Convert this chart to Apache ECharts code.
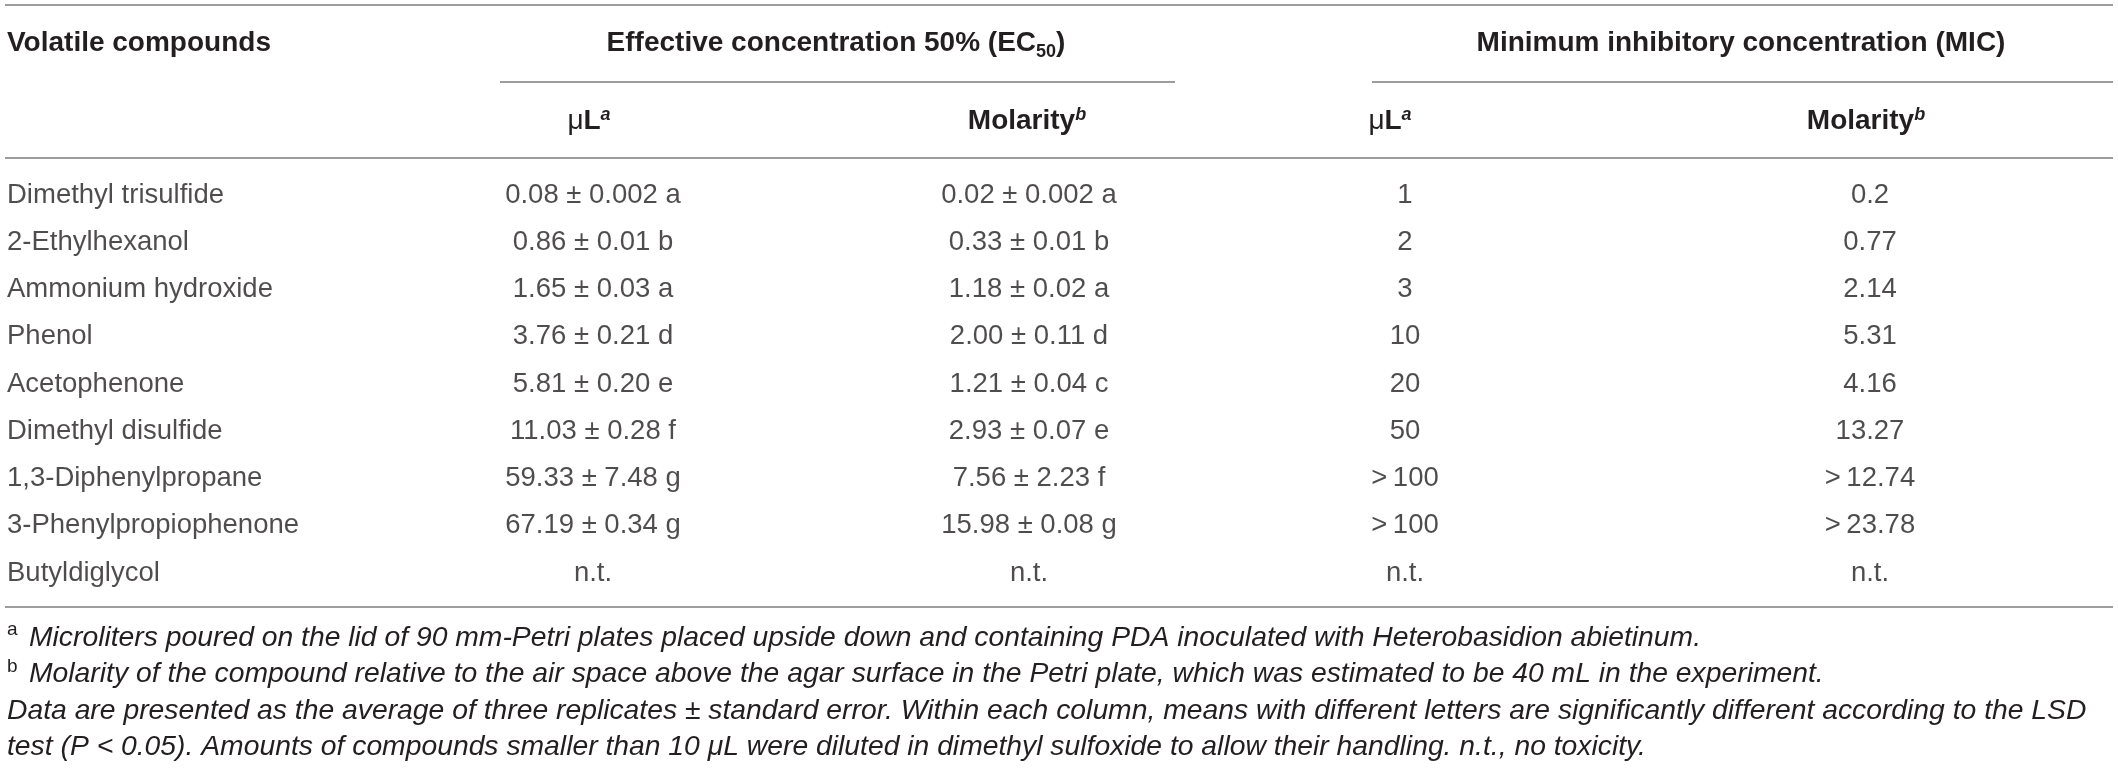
<!DOCTYPE html>
<html>
<head>
<meta charset="utf-8">
<script src="https://cdn.jsdelivr.net/npm/echarts@6/dist/echarts.min.js"></script>
<style>
  html, body { margin: 0; padding: 0; background: #fff; }
  #chart { width: 2118px; height: 770px; }
</style>
</head>
<body>
<div id="chart"></div>
<script>
// Table values
const compounds = [
  'Dimethyl trisulfide', '2-Ethylhexanol', 'Ammonium hydroxide', 'Phenol', 'Acetophenone',
  'Dimethyl disulfide', '1,3-Diphenylpropane', '3-Phenylpropiophenone', 'Butyldiglycol',
];
const ec50UlMean = [0.08, 0.86, 1.65, 3.76, 5.81, 11.03, 59.33, 67.19, null];
const ec50UlSe = [0.002, 0.01, 0.03, 0.21, 0.20, 0.28, 7.48, 0.34, null];
const ec50UlGroup = ['a', 'b', 'a', 'd', 'e', 'f', 'g', 'g', null];
const ec50MolMean = [0.02, 0.33, 1.18, 2.00, 1.21, 2.93, 7.56, 15.98, null];
const ec50MolSe = [0.002, 0.01, 0.02, 0.11, 0.04, 0.07, 2.23, 0.08, null];
const ec50MolGroup = ['a', 'b', 'a', 'd', 'c', 'e', 'f', 'g', null];
const micUl = [1, 2, 3, 10, 20, 50, 100, 100, null];
const micMol = [0.2, 0.77, 2.14, 5.31, 4.16, 13.27, 12.74, 23.78, null];
// MIC not reached within the tested range (shown with ">")
const micAbove = [false, false, false, false, false, false, true, true, false];

const footnotes = [
  { sup: 'a', text: 'Microliters poured on the lid of 90 mm-Petri plates placed upside down and containing PDA inoculated with Heterobasidion abietinum.' },
  { sup: 'b', text: 'Molarity of the compound relative to the air space above the agar surface in the Petri plate, which was estimated to be 40 mL in the experiment.' },
  { sup: '', text: 'Data are presented as the average of three replicates \u00b1 standard error. Within each column, means with different letters are significantly different according to the LSD' },
  { sup: '', text: 'test (P < 0.05). Amounts of compounds smaller than 10 \u03bcL were diluted in dimethyl sulfoxide to allow their handling. n.t., no toxicity.' },
];

// Layout
const W = 2118;
const FONT = '"Liberation Sans", Arial, Helvetica, sans-serif';
const INK = '#231f20';
const RULE = '#7d7d7d';
const colX = { name: 7, ec50Ul: 593, ec50Mol: 1029, micUl: 1405, micMol: 1870 };
const rowTop = 171.4, rowStep = 47.25;
const footTop = 638, footStep = 36.5;

const fmtMeanSe = (m, se, g) => {
  if (m === null) return 'n.t.';
  const d = se < 0.01 ? 3 : 2;
  return `${m.toFixed(2)} \u00b1 ${se.toFixed(d)} ${g}`;
};
const fmtMic = (v, above) => {
  if (v === null) return 'n.t.';
  return (above ? '>\u2009' : '') + v;
};

const columns = [
  { x: colX.name, align: 'left', cells: compounds },
  { x: colX.ec50Ul, align: 'center', cells: compounds.map((_, i) => fmtMeanSe(ec50UlMean[i], ec50UlSe[i], ec50UlGroup[i])) },
  { x: colX.ec50Mol, align: 'center', cells: compounds.map((_, i) => fmtMeanSe(ec50MolMean[i], ec50MolSe[i], ec50MolGroup[i])) },
  { x: colX.micUl, align: 'center', cells: compounds.map((_, i) => fmtMic(micUl[i], micAbove[i])) },
  { x: colX.micMol, align: 'center', cells: compounds.map((_, i) => fmtMic(micMol[i], micAbove[i])) },
];

const series = columns.map(col => ({
  type: 'scatter',
  symbolSize: 0,
  silent: true,
  data: compounds.map((c, i) => ({
    value: [col.x, c],
    label: { formatter: col.cells[i] },
  })),
  label: {
    show: true,
    position: 'inside',
    align: col.align,
    verticalAlign: 'middle',
    fontFamily: FONT,
    fontSize: 27.5,
    color: INK,
  },
}));

const rule = (x1, x2, y) => ({
  type: 'line',
  silent: true,
  shape: { x1, y1: y, x2, y2: y },
  style: { stroke: RULE, lineWidth: 1.6 },
});

const headText = (x, y, text, align, lineHeight) => ({
  type: 'text',
  x, y,
  silent: true,
  style: {
    text,
    align,
    verticalAlign: 'middle',
    fill: INK,
    rich: {
      h: { fontFamily: FONT, fontWeight: 'bold', fontSize: 28, lineHeight, fill: INK },
      mu: { fontFamily: FONT, fontWeight: 'normal', fontSize: 28, lineHeight, fill: INK },
      sub: { fontFamily: FONT, fontWeight: 'bold', fontSize: 18, verticalAlign: 'bottom', fill: INK },
      sup: { fontFamily: FONT, fontWeight: 'bold', fontStyle: 'italic', fontSize: 18, verticalAlign: 'top', fill: INK },
    },
  },
});

const graphic = [
  rule(5, 2113, 5),
  rule(500, 1175, 82),
  rule(1372, 2113, 82),
  rule(5, 2113, 158),
  rule(5, 2113, 607),
  headText(7, 43, '{h|Volatile compounds}', 'left', 36),
  headText(836, 43, '{h|Effective concentration 50% (EC}{sub|50}{h|)}', 'center', 36),
  headText(1741, 43, '{h|Minimum inhibitory concentration (MIC)}', 'center', 36),
  headText(589, 121, '{mu|\u03bc}{h|L}{sup|a}', 'center', 30),
  headText(1027, 121, '{h|Molarity}{sup|b}', 'center', 30),
  headText(1390, 121, '{mu|\u03bc}{h|L}{sup|a}', 'center', 30),
  headText(1866, 121, '{h|Molarity}{sup|b}', 'center', 30),
];

footnotes.forEach((f, i) => {
  const y = footTop + i * footStep;
  if (f.sup) {
    graphic.push({
      type: 'text', x: 7, y: y - 8, silent: true,
      style: { text: f.sup, align: 'left', verticalAlign: 'middle', fontFamily: FONT, fontSize: 19, fill: INK },
    });
  }
  graphic.push({
    type: 'text',
    x: f.sup ? 29 : 7,
    y,
    silent: true,
    style: {
      text: f.text,
      align: 'left',
      verticalAlign: 'middle',
      fontFamily: FONT,
      fontStyle: 'italic',
      fontSize: 28.3,
      fill: INK,
    },
  });
});

const chart = echarts.init(document.getElementById('chart'), null, { renderer: 'canvas' });
chart.setOption({
  backgroundColor: '#ffffff',
  animation: false,
  grid: { left: 0, right: 0, top: rowTop, height: rowStep * compounds.length, containLabel: false },
  xAxis: { type: 'value', min: 0, max: W, show: false },
  yAxis: { type: 'category', data: compounds, inverse: true, show: false },
  series,
  graphic,
});
</script>
</body>
</html>
